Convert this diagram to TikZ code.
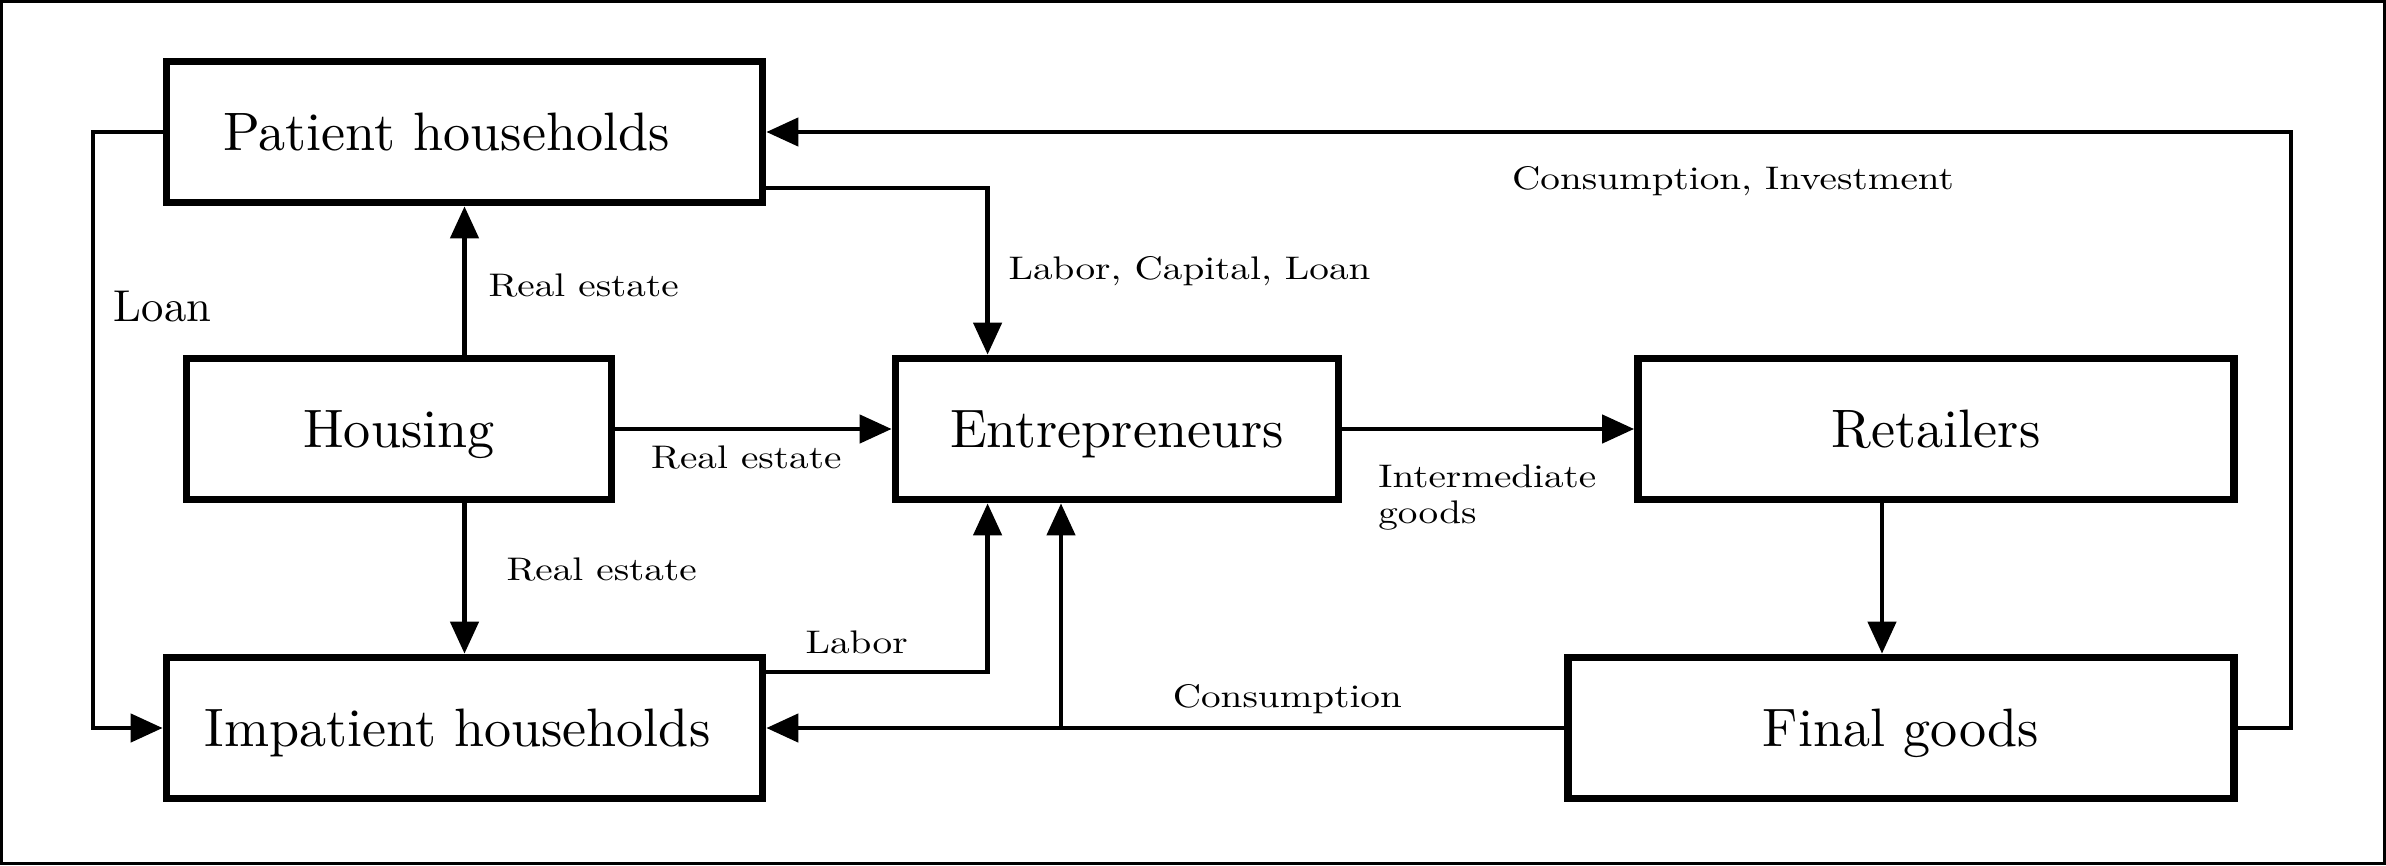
\documentclass[tikz,border=0pt]{standalone}
\usepackage{fontspec}
\usepackage{tikz}
\usetikzlibrary{arrows.meta,positioning}
\newfontfamily\boxfont{lmroman10-regular.otf}
\newfontfamily\lblfont{lmroman10-regular.otf}[FakeStretch=1.2]

\begin{document}
\begin{tikzpicture}[node distance=2cm,on grid,
    >={Triangle[length=3.2mm,width=2.8mm]},
    sector/.style={draw,line width=2.2pt,minimum height=1.41cm,inner sep=0pt,
      text height=10.5pt,text depth=0pt,font=\boxfont\fontsize{15.4}{18}\selectfont},
    flow/.style={->,line width=1.3pt},
    lbl/.style={font=\lblfont\fontsize{9.3}{10.3}\selectfont}]
   \useasboundingbox (0,0) rectangle (23.86,8.65);
   \draw[line width=0.9pt] (0.016,0.016) rectangle (23.844,8.634);

   \node[sector,minimum width=5.96cm] (pat) at (4.645,7.33) {Patient households\kern0.36cm};
   \node[sector,minimum width=4.25cm] (hous) [below left=2.97cm and 0.655cm of pat] {Housing};
   \node[sector,minimum width=5.96cm] (impat) [below=5.96cm of pat] {Impatient households\kern0.14cm};
   \node[sector,minimum width=4.43cm] (entr) [right=7.18cm of hous] {Entrepreneurs};
   \node[sector,minimum width=5.96cm] (ret) [right=8.19cm of entr] {Retailers};
   \node[sector,minimum width=6.66cm] (fin) [right=14.365cm of impat] {Final goods};

   \coordinate (lx) at (0.93,0);
   \coordinate (rx) at (22.91,0);
   \coordinate (entrtop) at ([xshift=-12.94mm]entr.north);
   \coordinate (entrbot) at ([xshift=-12.94mm]entr.south);
   \coordinate (entrmid) at ([xshift=-5.6mm]entr.south);
   \coordinate (finin) at ([xshift=-1.9mm]fin.north);

   \draw[flow] (pat.west) -- (pat.west -| lx) |- node[pos=0.146,right=0.7mm,font=\boxfont\fontsize{12.7}{15}\selectfont] {Loan} (impat.west);
   \draw[flow] (hous.north -| pat.south) -- node[lbl,pos=0.465,right=1mm] {Real estate} (pat.south);
   \draw[flow] (hous.south -| impat.north) -- node[lbl,pos=0.44,right=2.8mm] {Real estate} (impat.north);
   \draw[flow] (hous.east) -- node[lbl,pos=0.474,below=0.3mm] {Real estate} (entr.west);
   \draw[flow] ([yshift=-5.6mm]pat.east) -| node[lbl,pos=0.75,right=0.7mm] {Labor, Capital, Loan} (entrtop);
   \draw[flow] ([yshift=5.6mm]impat.east) -| node[lbl,pos=0.204,above=0.4mm] {Labor} (entrbot);
   \draw[flow] (fin.west) -- node[lbl,pos=0.347,above=0mm] {Consumption} (impat.east);
   \draw[flow] (entrmid |- fin.west) -- (entrmid);
   \draw[flow] (entr.east) -- node[lbl,pos=0,align=left,below right=2.2mm and 2.2mm] {Intermediate\\goods} (ret.west);
   \draw[flow] (finin |- ret.south) -- (finin);
   \draw[flow] (fin.east) -| (rx |- pat.east) -- node[lbl,pos=0.366,below=2mm] {Consumption, Investment} (pat.east);
\end{tikzpicture}
\end{document}
